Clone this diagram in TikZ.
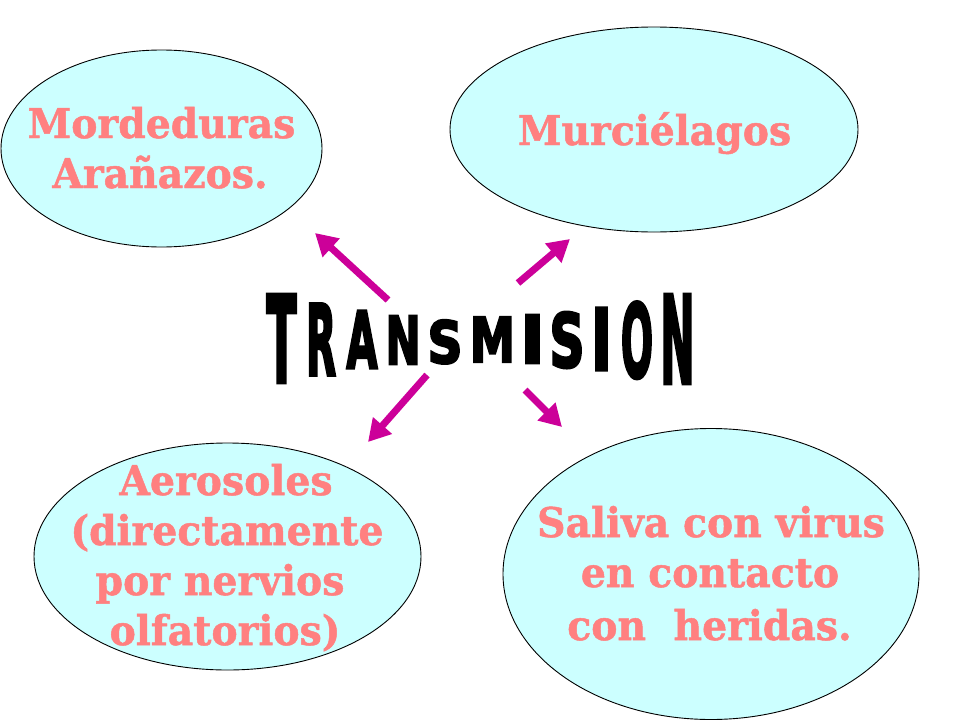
\documentclass[tikz,border=0pt]{standalone}
\usepackage{fontspec}
\usepackage{graphicx}
\usetikzlibrary{arrows.meta,shapes.geometric}
\newfontfamily\lblfont[FakeStretch=0.96,BoldFeatures={FakeBold=1.2}]{DejaVu Serif}
\newfontfamily\tfont[BoldFeatures={FakeBold=4}]{DejaVu Sans}
\definecolor{ellfill}{RGB}{204,255,255}
\definecolor{salmon}{RGB}{255,128,128}
\definecolor{magarrow}{RGB}{204,0,153}
\tikzset{
  bubble/.style={ellipse, draw=black, line width=0.9pt, fill=ellfill, inner sep=0pt},
  lbl/.style={text=salmon, inner sep=0pt, anchor=base, font=\lblfont\bfseries\fontsize{41}{49}\selectfont},
  letter/.style={inner sep=0pt, anchor=base},
  pointer/.style={draw=magarrow, line width=7pt, -{Triangle[length=22pt,width=24pt]}, fill=magarrow}
}
\newcommand{\tlet}[6]{\node[letter] (#1) at (#2,#3) {\resizebox{#4pt}{#5pt}{\tfont\bfseries #6}};}
\begin{document}
\begin{tikzpicture}[x=1pt,y=-1pt]
\useasboundingbox (0,0) rectangle (960,720);
\fill[white] (0,0) rectangle (960,720);
% ellipses
\node[bubble, minimum width=321pt, minimum height=197pt] (e1) at (161.5,148.5) {};
\node[bubble, minimum width=408pt, minimum height=205pt] (e2) at (654,129.5) {};
\node[bubble, minimum width=387pt, minimum height=227pt] (e3) at (227.5,556.5) {};
\node[bubble, minimum width=416pt, minimum height=291pt] (e4) at (711,574) {};
% texts
\node[lbl] (t1a) at (161.5,138) {Mordeduras};
\node[lbl] (t1b) at (160,188) {Arañazos.};
\node[lbl] (t2a) at (654.5,145) {Murciélagos};
\node[lbl] (t3a) at (226,495) {Aerosoles};
\node[lbl] (t3b) at (227,545) {(directamente};
\node[lbl] (t3c) at (220,595) {por nervios};
\node[lbl] (t3d) at (225,645) {olfatorios)};
\node[lbl] (t4a) at (711,537) {Saliva con virus};
\node[lbl] (t4b) at (710,587) {en contacto};
\node[lbl] (t4c) at (709.5,640) {con\ \ heridas.};
% TRANSMISION
\tlet{L1}{281.5}{382}{30}{87}{T}
\tlet{L2}{321}{375}{30}{71}{R}
\tlet{L3}{362}{368}{31}{57}{A}
\tlet{L4}{403}{364}{35}{48}{N}
\tlet{L5}{445}{363}{35}{43}{S}
\tlet{L6}{492.5}{362}{45}{45}{M}
\tlet{L7}{532.5}{363}{24}{48}{I}
\tlet{L8}{567}{367}{35}{55}{S}
\tlet{L9}{601.5}{370}{21}{62}{I}
\tlet{L10}{637}{377}{32}{75}{O}
\tlet{L11}{677.5}{383}{34}{88}{N}
% arrows
\coordinate (a1s) at (388,300); \coordinate (a1e) at (315,233);
\coordinate (a2s) at (518,283); \coordinate (a2e) at (570,239);
\coordinate (a3s) at (427,375); \coordinate (a3e) at (368,442);
\coordinate (a4s) at (525,390); \coordinate (a4e) at (562,427);
\draw[pointer] (a1s) -- (a1e);
\draw[pointer] (a2s) -- (a2e);
\draw[pointer] (a3s) -- (a3e);
\draw[pointer] (a4s) -- (a4e);
\end{tikzpicture}
\end{document}
